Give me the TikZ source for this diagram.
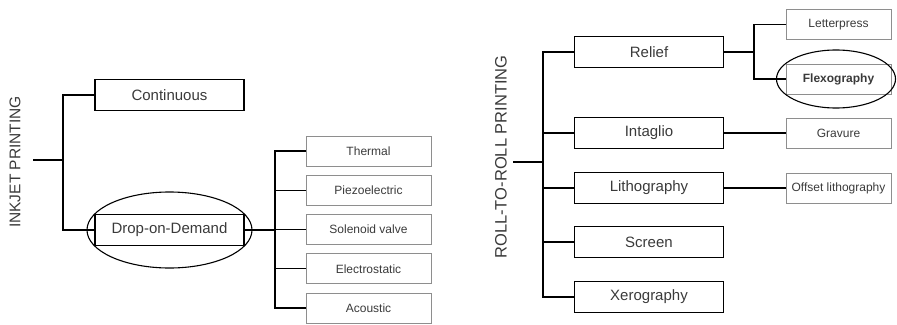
\documentclass[tikz,border=0pt]{standalone}
\usepackage{fontspec}
\setmainfont{Liberation Sans}
\usetikzlibrary{positioning,shapes.geometric}
\definecolor{boxgray}{HTML}{8E8E8E}
\definecolor{inkgray}{HTML}{3A3A3A}

\tikzset{
  mainbox/.style={draw=black,line width=1.1pt,minimum width=149pt,minimum height=31pt,
    inner sep=0pt,text=inkgray,font=\fontsize{15}{18}\selectfont},
  subbox/.style={draw=boxgray,line width=0.8pt,minimum height=30pt,
    inner sep=0pt,text=inkgray,font=\fontsize{12}{14}\selectfont},
  link/.style={line width=1.4pt},
  halo/.style={draw,ellipse,line width=1.1pt,inner sep=0pt},
  sidelabel/.style={rotate=90,text=inkgray}
}

\begin{document}
\begin{tikzpicture}[x=1pt,y=-1pt]
\useasboundingbox (0,0) rectangle (897,324);

% inkjet side
\node[sidelabel,font=\fontsize{15.5}{18}\selectfont] (ink) at (15,162) {INKJET PRINTING};
\coordinate (inkroot) at (33,160);
\coordinate (inktrunk) at (63,160);
\node[mainbox] (cont) at (169.5,95) {Continuous};
\node[mainbox] (dod) at (169.5,230) {Drop-on-Demand};
\node[halo,minimum width=165pt,minimum height=76pt] (dodring) at (169.5,230) {};
\draw[link] (inkroot) -- (inktrunk);
\draw[link] (cont.west) -| (inktrunk) |- (dod.west);

\coordinate (dodtrunk) at (275,230);
\draw[link] (dod.east) -- (dodtrunk);
\foreach \i/\name in {0/Thermal,1/Piezoelectric,2/Solenoid valve,3/Electrostatic,4/Acoustic}
{
  \node[subbox,minimum width=125pt] (dod\i) at (368.5,151+\i*39.25) {\name};
  \draw[link] (dodtrunk) |- (dod\i.west);
}

% roll-to-roll side
\node[sidelabel,font=\fontsize{16.5}{19}\selectfont] (r2r) at (501,157) {ROLL-TO-ROLL PRINTING};
\coordinate (rollroot) at (513,162);
\coordinate (rolltrunk) at (543,162);
\draw[link] (rollroot) -- (rolltrunk);
\foreach \key/\name/\y in {relief/Relief/52,intaglio/Intaglio/133,litho/Lithography/188,
  screen/Screen/242,xero/Xerography/297}
{
  \node[mainbox] (\key) at (649,\y) {\name};
  \draw[link] (rolltrunk) |- (\key.west);
}

% second level
\node[subbox,minimum width=105pt] (letter) at (838.5,24.5) {Letterpress};
\node[subbox,minimum width=105pt,font=\fontsize{12}{14}\selectfont\bfseries] (flexo) at (838.5,79) {Flexography};
\node[halo,minimum width=119pt,minimum height=58pt] (flexoring) at (836,79) {};
\node[subbox,minimum width=105pt] (grav) at (838.5,133) {Gravure};
\node[subbox,minimum width=105pt] (offset) at (838.5,188) {Offset lithography};

\coordinate (relieftrunk) at (754,52);
\draw[link] (relief.east) -- (relieftrunk);
\draw[link] (letter.west) -| (relieftrunk) |- (flexo.west);
\draw[link] (intaglio.east) -- (grav.west);
\draw[link] (litho.east) -- (offset.west);
\end{tikzpicture}
\end{document}
